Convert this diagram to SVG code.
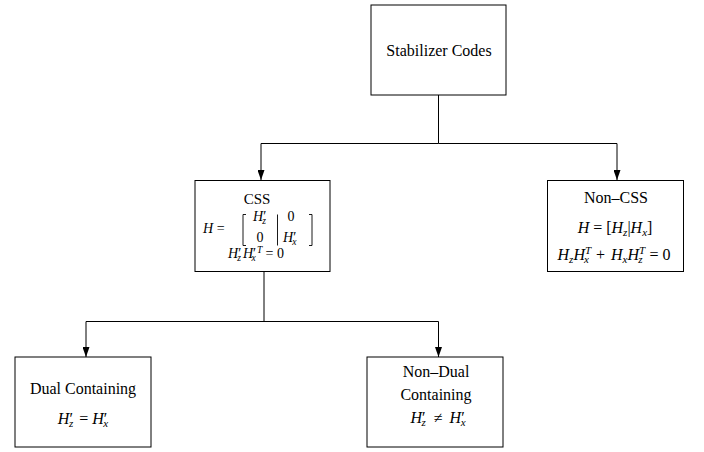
<svg xmlns="http://www.w3.org/2000/svg" width="704" height="452" viewBox="0 0 704 452">
  <defs>
    <marker id="arrow" markerWidth="10" markerHeight="7" refX="10" refY="3.5" orient="auto" markerUnits="userSpaceOnUse" viewBox="0 0 10 7">
      <path d="M0,0 L10,3.5 L0,7 Z" fill="#000"/>
    </marker>
    <style>
      .box { fill: #fff; stroke: #000; stroke-width: 1; }
      .edge { fill: none; stroke: #000; stroke-width: 1; }
      .delim { fill: none; stroke: #000; stroke-width: 0.9; }
      text { font-family: "Liberation Serif", "Times New Roman", serif; fill: #000; }
      .lbl { font-size: 16px; text-anchor: middle; }
      .math { font-size: 16px; text-anchor: middle; }
      .mat { font-size: 14px; }
      .i { font-style: italic; }
      .sm { font-size: 11px; }
      .xs { font-size: 9.5px; }
    </style>
  </defs>

  <!-- connectors -->
  <g id="edges">
    <path class="edge" d="M438.5,95 V143.5 H261 V180" marker-end="url(#arrow)"/>
    <path class="edge" d="M438.5,143.5 H617 V180" marker-end="url(#arrow)"/>
    <path class="edge" d="M264,271 V321.5 H86 V357" marker-end="url(#arrow)"/>
    <path class="edge" d="M264,321.5 H438.5 V357" marker-end="url(#arrow)"/>
  </g>

  <!-- root -->
  <g id="stabilizer">
    <rect class="box" x="371" y="5" width="135" height="90"/>
    <text class="lbl" x="439" y="56">Stabilizer Codes</text>
  </g>

  <!-- CSS codes -->
  <g id="css">
    <rect class="box" x="195" y="180.5" width="135" height="91"/>
    <text class="lbl" x="257" y="204" style="font-size:15px">CSS</text>
    <text class="mat" x="203" y="233"><tspan class="i">H</tspan> =</text>
    <path class="delim" d="M246,214.5 H243 V245.5 H246"/>
    <path class="delim" d="M277.5,214.5 V245.5"/>
    <path class="delim" d="M309,214.5 H312 V245.5 H309"/>
    <text class="mat" x="253" y="221"><tspan class="i">H</tspan><tspan>′</tspan><tspan class="xs i" dx="-4" dy="3">z</tspan></text>
    <text class="mat" x="291" y="221" text-anchor="middle">0</text>
    <text class="mat" x="260" y="242" text-anchor="middle">0</text>
    <text class="mat" x="283" y="242"><tspan class="i">H</tspan><tspan>′</tspan><tspan class="xs i" dx="-4" dy="3">x</tspan></text>
    <text class="mat" x="228" y="258"><tspan class="i">H</tspan><tspan>′</tspan><tspan class="xs i" dx="-4" dy="3">z</tspan><tspan class="i" dx="2" dy="-3">H</tspan><tspan>′</tspan><tspan class="xs i" dx="1" dy="-5">T</tspan><tspan class="xs i" dx="-11" dy="8">x</tspan><tspan dx="10" dy="-3">= 0</tspan></text>
  </g>

  <!-- non-CSS codes -->
  <g id="noncss">
    <rect class="box" x="547.5" y="180.5" width="136" height="91"/>
    <text class="lbl" x="616" y="203">Non–CSS</text>
    <text class="math" x="615" y="233"><tspan class="i">H</tspan> = [<tspan class="i">H</tspan><tspan class="sm i" dy="3">z</tspan><tspan dy="-3">|</tspan><tspan class="i">H</tspan><tspan class="sm i" dy="3">x</tspan><tspan dy="-3">]</tspan></text>
    <text class="math" x="614" y="260"><tspan class="i">H</tspan><tspan class="sm i" dy="3">z</tspan><tspan class="i" dy="-3">H</tspan><tspan class="sm i" dy="-6">T</tspan><tspan class="sm i" dx="-7" dy="9">x</tspan><tspan dx="7" dy="-3">+ </tspan><tspan class="i" dx="2">H</tspan><tspan class="sm i" dy="3">x</tspan><tspan class="i" dy="-3">H</tspan><tspan class="sm i" dy="-6">T</tspan><tspan class="sm i" dx="-7" dy="9">z</tspan><tspan dx="7" dy="-3">= 0</tspan></text>
  </g>

  <!-- dual containing -->
  <g id="dual">
    <rect class="box" x="15" y="357" width="136" height="90"/>
    <text class="lbl" x="83" y="394">Dual Containing</text>
    <text class="math" x="83" y="424"><tspan class="i">H</tspan><tspan>′</tspan><tspan class="sm i" dx="-4" dy="3">z</tspan><tspan dx="2" dy="-3"> = </tspan><tspan class="i">H</tspan><tspan>′</tspan><tspan class="sm i" dx="-4" dy="3">x</tspan></text>
  </g>

  <!-- non-dual containing -->
  <g id="nondual">
    <rect class="box" x="367" y="357" width="136" height="90"/>
    <text class="lbl" x="436" y="377">Non–Dual</text>
    <text class="lbl" x="436" y="400">Containing</text>
    <text class="math" x="438" y="423"><tspan class="i">H</tspan><tspan>′</tspan><tspan class="sm i" dx="-4" dy="3">z</tspan><tspan dx="4" dy="-3"> ≠ </tspan><tspan class="i" dx="3">H</tspan><tspan>′</tspan><tspan class="sm i" dx="-4" dy="3">x</tspan></text>
  </g>
</svg>
